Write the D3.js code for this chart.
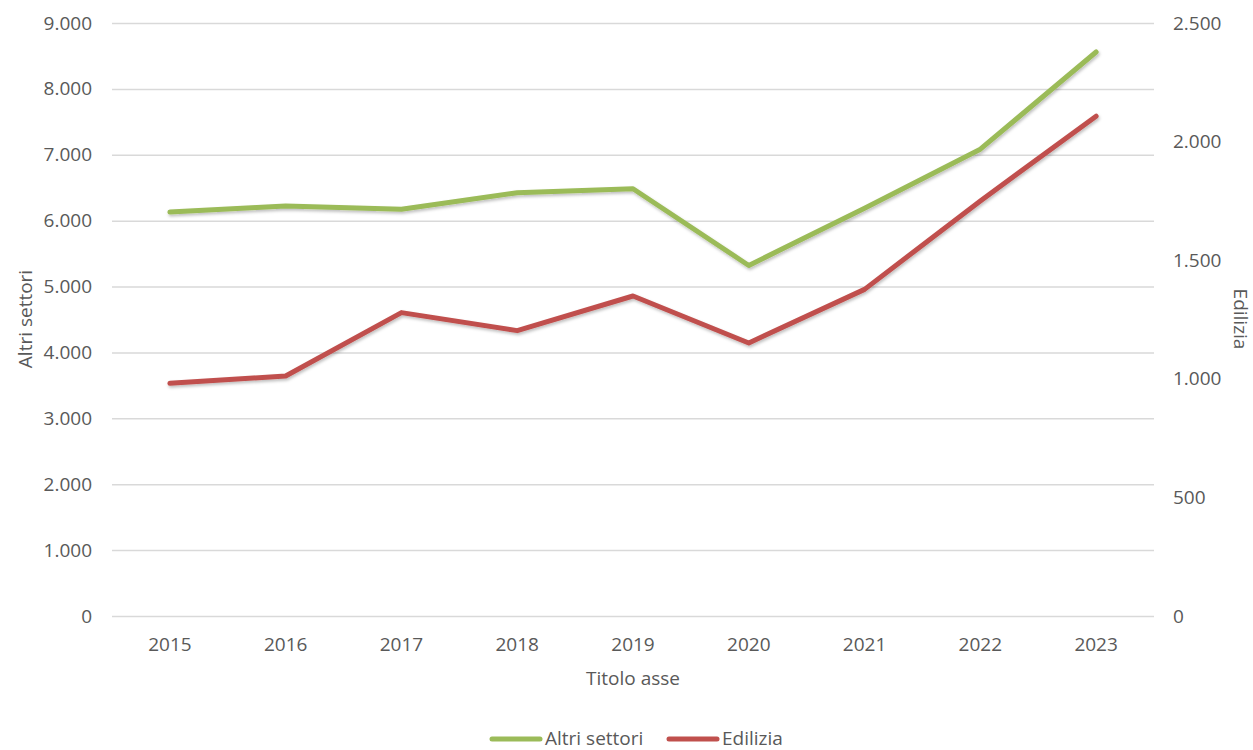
<!DOCTYPE html>
<html>
<head>
<meta charset="utf-8">
<script src="https://cdn.jsdelivr.net/npm/d3@7"></script>
<style>
  body { margin: 0; background: #fff; }
  svg text { font-family: "Open Sans", "Noto Sans", sans-serif; fill: #595959; }
</style>
</head>
<body>
<svg id="chart" width="1253" height="750"></svg>
<script>
const years = ["2015","2016","2017","2018","2019","2020","2021","2022","2023"];
const altriSettori = [6130, 6222, 6172, 6424, 6485, 5320, 6190, 7085, 8560];
const edilizia = [981, 1012, 1279, 1203, 1349, 1151, 1377, 1750, 2107];
const leftTicks = [0, 1000, 2000, 3000, 4000, 5000, 6000, 7000, 8000, 9000];
const rightTicks = [0, 500, 1000, 1500, 2000, 2500];
const seriesNames = ["Altri settori", "Edilizia"];
const colors = ["#9BBB59", "#C0504D"];

const svg = d3.select("#chart");
const m = { left: 112, right: 1154, top: 23, bottom: 616 };
const FS = "19px";

const x = d3.scaleBand().domain(years).range([m.left, m.right]);
const yL = d3.scaleLinear().domain([0, 9000]).range([m.bottom, m.top]);
const yR = d3.scaleLinear().domain([0, 2500]).range([m.bottom, m.top]);
const fmt = v => d3.format(",")(v).replace(/,/g, ".");

// shadow filter
const defs = svg.append("defs");
const f = defs.append("filter").attr("id", "shadow").attr("x", "-10%").attr("y", "-10%").attr("width", "120%").attr("height", "130%");
f.append("feDropShadow").attr("dx", 1).attr("dy", 2).attr("stdDeviation", 1.5).attr("flood-color", "#000").attr("flood-opacity", 0.25);

// gridlines
svg.append("g")
  .attr("transform", `translate(${m.left},0)`)
  .call(d3.axisLeft(yL).tickValues(leftTicks).tickSize(-(m.right - m.left)).tickFormat(""))
  .call(g => g.select(".domain").remove())
  .call(g => g.selectAll("line").attr("stroke", "#d9d9d9").attr("stroke-width", 1.5));

// left axis labels
svg.append("g")
  .attr("transform", `translate(${m.left},0)`)
  .call(d3.axisLeft(yL).tickValues(leftTicks).tickSize(0).tickPadding(20).tickFormat(fmt))
  .call(g => g.select(".domain").remove())
  .call(g => g.selectAll("text").style("font-size", FS).attr("fill", "#595959"));

// right axis labels
svg.append("g")
  .attr("transform", `translate(${m.right},0)`)
  .call(d3.axisRight(yR).tickValues(rightTicks).tickSize(0).tickPadding(19).tickFormat(fmt))
  .call(g => g.select(".domain").remove())
  .call(g => g.selectAll("text").style("font-size", FS).attr("fill", "#595959"));

// x axis labels
svg.append("g")
  .attr("transform", `translate(0,${m.bottom})`)
  .call(d3.axisBottom(x).tickSize(0).tickPadding(22))
  .call(g => g.select(".domain").remove())
  .call(g => g.selectAll("text").style("font-size", FS).attr("fill", "#595959").attr("dy", "0.71em"));

// axis titles
svg.append("text").attr("x", 633).attr("y", 685).attr("text-anchor", "middle").style("font-size", FS).text("Titolo asse");
svg.append("text").attr("transform", "translate(32,319) rotate(-90)").attr("text-anchor", "middle").style("font-size", FS).text("Altri settori");
svg.append("text").attr("transform", "translate(1234,319) rotate(90)").attr("text-anchor", "middle").style("font-size", FS).text("Edilizia");

// lines
const lineL = d3.line().x((d, i) => x(years[i]) + x.bandwidth() / 2).y(d => yL(d));
const lineR = d3.line().x((d, i) => x(years[i]) + x.bandwidth() / 2).y(d => yR(d));

svg.append("path").datum(altriSettori).attr("d", lineL)
  .attr("fill", "none").attr("stroke", colors[0]).attr("stroke-width", 5)
  .attr("stroke-linecap", "round").attr("stroke-linejoin", "round").attr("filter", "url(#shadow)");
svg.append("path").datum(edilizia).attr("d", lineR)
  .attr("fill", "none").attr("stroke", colors[1]).attr("stroke-width", 5)
  .attr("stroke-linecap", "round").attr("stroke-linejoin", "round").attr("filter", "url(#shadow)");

// legend
const legend = [{ x: 492, name: seriesNames[0], c: colors[0] }, { x: 669, name: seriesNames[1], c: colors[1] }];
const lg = svg.append("g");
legend.forEach(l => {
  lg.append("line").attr("x1", l.x).attr("x2", l.x + 48).attr("y1", 739).attr("y2", 739)
    .attr("stroke", l.c).attr("stroke-width", 5).attr("stroke-linecap", "round");
  lg.append("text").attr("x", l.x + 53).attr("y", 745).style("font-size", FS).text(l.name);
});
</script>
</body>
</html>
